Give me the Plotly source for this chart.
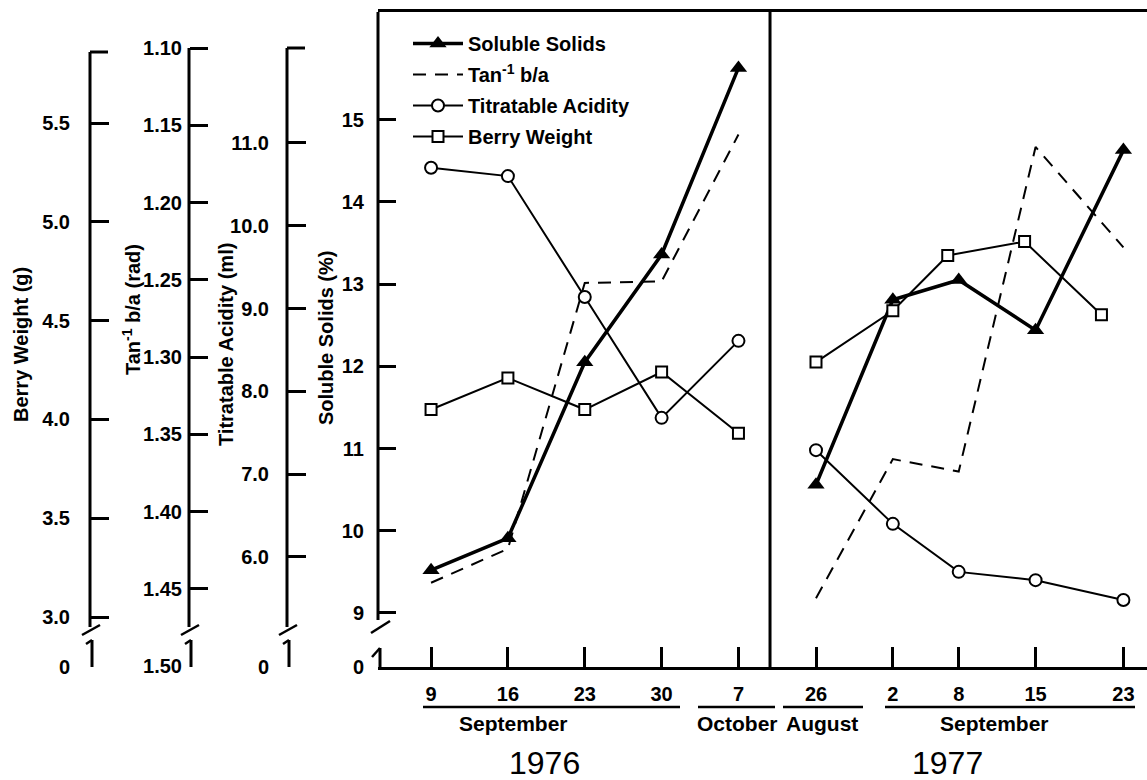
import plotly.graph_objects as go

# ---------------- data ----------------
dates_1976 = ["1976-09-09", "1976-09-16", "1976-09-23", "1976-09-30", "1976-10-07"]
dates_1977 = ["1977-08-26", "1977-09-02", "1977-09-08", "1977-09-15", "1977-09-23"]
bw_dates_1977 = ["1977-08-26", "1977-09-02", "1977-09-07", "1977-09-14", "1977-09-21"]
day_labels_1976 = ["9", "16", "23", "30", "7"]
day_labels_1977 = ["26", "2", "8", "15", "23"]

soluble_solids_1976 = [9.52, 9.91, 12.05, 13.36, 15.63]
soluble_solids_1977 = [10.56, 12.81, 13.05, 12.44, 14.63]
tan_ba_1976 = [1.446, 1.424, 1.252, 1.251, 1.156]
tan_ba_1977 = [1.456, 1.366, 1.374, 1.164, 1.229]
titratable_acidity_1976 = [10.70, 10.60, 9.14, 7.68, 8.61]
titratable_acidity_1977 = [7.29, 6.40, 5.82, 5.72, 5.48]
berry_weight_1976 = [4.05, 4.21, 4.05, 4.24, 3.93]
berry_weight_1977 = [4.29, 4.55, 4.83, 4.90, 4.53]

ss_ticks = [9, 10, 11, 12, 13, 14, 15]
bw_ticks = [3.0, 3.5, 4.0, 4.5, 5.0, 5.5]
tan_ticks = [1.10, 1.15, 1.20, 1.25, 1.30, 1.35, 1.40, 1.45, 1.50]
ta_ticks = [6.0, 7.0, 8.0, 9.0, 10.0, 11.0]

# ---------------- layout helpers ----------------
W, H = 1147, 780
PL, PT, PB = 378, 12, 667
FONT = "Liberation Sans, Arial, sans-serif"


def xp(px):
    return px / W


def yp(py):
    return (PB - py) / (PB - PT)


ss_range = [8.343, 16.31]
bw_range = [2.747, 6.062]
tan_range = [1.5005, 1.0767]
ta_range = [4.671, 12.582]

fig = go.Figure()

styles = {
    "ss": dict(mode="lines+markers", line=dict(color="black", width=3.5),
               marker=dict(symbol="triangle-up", size=15, color="black")),
    "tan": dict(mode="lines", line=dict(color="black", width=2, dash="13px,9px")),
    "ta": dict(mode="lines+markers", line=dict(color="black", width=2),
               marker=dict(symbol="circle", size=12, color="white",
                           line=dict(color="black", width=2))),
    "bw": dict(mode="lines+markers", line=dict(color="black", width=2),
               marker=dict(symbol="square", size=11, color="white",
                           line=dict(color="black", width=2))),
}

series = [
    ("ss", "Soluble Solids", "y", dates_1976, soluble_solids_1976, dates_1977, soluble_solids_1977),
    ("tan", "Tan<sup>-1</sup> b/a", "y3", dates_1976, tan_ba_1976, dates_1977, tan_ba_1977),
    ("ta", "Titratable Acidity", "y4", dates_1976, titratable_acidity_1976, dates_1977, titratable_acidity_1977),
    ("bw", "Berry Weight", "y2", dates_1976, berry_weight_1976, bw_dates_1977, berry_weight_1977),
]

for key, name, yax, x76, y76, x77, y77 in series:
    fig.add_trace(go.Scatter(x=x76, y=y76, name=name, yaxis=yax, legendgroup=key,
                             showlegend=True, cliponaxis=False, **styles[key]))
    fig.add_trace(go.Scatter(x=x77, y=y77, name=name, yaxis=yax, legendgroup=key,
                             showlegend=False, cliponaxis=False, **styles[key]))

tickfont = dict(family=FONT, size=20, color="black", weight="bold")

common_y = dict(showgrid=False, zeroline=False, showline=False, ticks="inside",
                ticklen=18, tickwidth=3, tickcolor="black", tickfont=tickfont,
                automargin=False, fixedrange=True)

eps_ss = (ss_range[1] - ss_range[0]) * 0.0005
eps_bw = (bw_range[1] - bw_range[0]) * 0.0005
eps_ta = (ta_range[1] - ta_range[0]) * 0.0005

fig.update_layout(
    width=W, height=H,
    margin=dict(l=0, r=0, t=PT, b=H - PB),
    paper_bgcolor="white", plot_bgcolor="white",
    font=dict(family=FONT, color="black"),
    xaxis=dict(
        type="date", domain=[xp(PL), 1],
        range=["1976-09-04 04:00", "1977-09-25 03:36"],
        rangebreaks=[dict(bounds=["1976-10-09 21:00", "1977-08-21 19:30"])],
        tickvals=dates_1976 + dates_1977,
        ticktext=day_labels_1976 + day_labels_1977,
        ticks="inside", ticklen=20, tickwidth=3, tickcolor="black",
        showline=True, linewidth=3, linecolor="black", mirror=True,
        showgrid=False, zeroline=False, tickfont=tickfont,
        ticklabelstandoff=7, automargin=False, fixedrange=True,
    ),
    yaxis=dict(range=ss_range,
               tickvals=[ss_range[0] + eps_ss] + ss_ticks,
               ticktext=["0"] + [str(v) for v in ss_ticks],
               ticklabelstandoff=13, **common_y),
    yaxis2=dict(range=bw_range, overlaying="y", anchor="free", position=xp(90), side="left",
                tickvals=[bw_range[0] + eps_bw] + bw_ticks,
                ticktext=["0"] + [f"{v:.1f}" for v in bw_ticks],
                ticklabelstandoff=20, **common_y),
    yaxis3=dict(range=tan_range, overlaying="y", anchor="free", position=xp(189), side="left",
                tickvals=tan_ticks, ticktext=[f"{v:.2f}" for v in tan_ticks],
                ticklabelstandoff=7, **common_y),
    yaxis4=dict(range=ta_range, overlaying="y", anchor="free", position=xp(287), side="left",
                tickvals=[ta_range[0] + eps_ta] + ta_ticks,
                ticktext=["0"] + [f"{v:.1f}" for v in ta_ticks],
                ticklabelstandoff=18, **common_y),
    legend=dict(x=xp(408), y=yp(24), xanchor="left", yanchor="top",
                bgcolor="rgba(0,0,0,0)", font=dict(family=FONT, size=20, color="black", weight="bold"),
                traceorder="grouped", tracegroupgap=2, itemwidth=50),
    showlegend=True,
)

shapes = []


def seg(x0, y0, x1, y1, w=3):
    shapes.append(dict(type="line", xref="paper", yref="paper",
                       x0=xp(x0), y0=yp(y0), x1=xp(x1), y1=yp(y1),
                       line=dict(color="black", width=w)))


# free axes: lines, top caps, breaks
for ax_x, top, cap in [(90, 52, True), (189, 48, False), (287, 48, True)]:
    seg(ax_x, top, ax_x, 627)
    if cap:
        seg(ax_x, top, ax_x + 18, top)
    seg(ax_x - 8, 635, ax_x + 10, 625, 2.5)
    seg(ax_x - 4, 644, ax_x + 2, 640, 2.5)
    seg(ax_x + 2, 640, ax_x + 2, 667)

# soluble solids axis (left frame) with break
seg(PL, PT, PL, 620)
seg(371, 633, 390, 621, 2.5)
seg(372, 657, 380, 648, 2.5)
seg(380, 648, 380, 667)

# divider between years
shapes.append(dict(type="line", xref="x", yref="paper", x0="1976-10-09 21:00", x1="1976-10-09 21:00",
                   y0=0, y1=1, line=dict(color="black", width=3)))

# month underlines
for a, b in [(423, 680), (698, 775), (783, 863), (885, 1135)]:
    seg(a, 707, b, 707, 2.5)

fig.update_layout(shapes=shapes)

ann = []


def text(x, y, s, size=20, bold=True, angle=0):
    ann.append(dict(xref="paper", yref="paper", x=xp(x), y=yp(y), text=s, showarrow=False,
                    xanchor="center", yanchor="middle", textangle=angle,
                    font=dict(family=FONT, size=size, color="black",
                              weight="bold" if bold else "normal")))


text(513, 723, "September", size=21)
text(737, 723, "October", size=21)
text(822, 723, "August", size=21)
text(995, 723, "September", size=21)
text(544, 763, "1976", size=32, bold=False)
text(947, 763, "1977", size=32, bold=False)

text(21, 345, "Berry Weight (g)", angle=-90)
text(131, 310, "Tan<sup>-1</sup> b/a (rad)", angle=-90)
text(226, 345, "Titratable Acidity (ml)", angle=-90)
text(326, 338, "Soluble Solids (%)", angle=-90)

fig.update_layout(annotations=ann)

fig.write_html("out.html")
